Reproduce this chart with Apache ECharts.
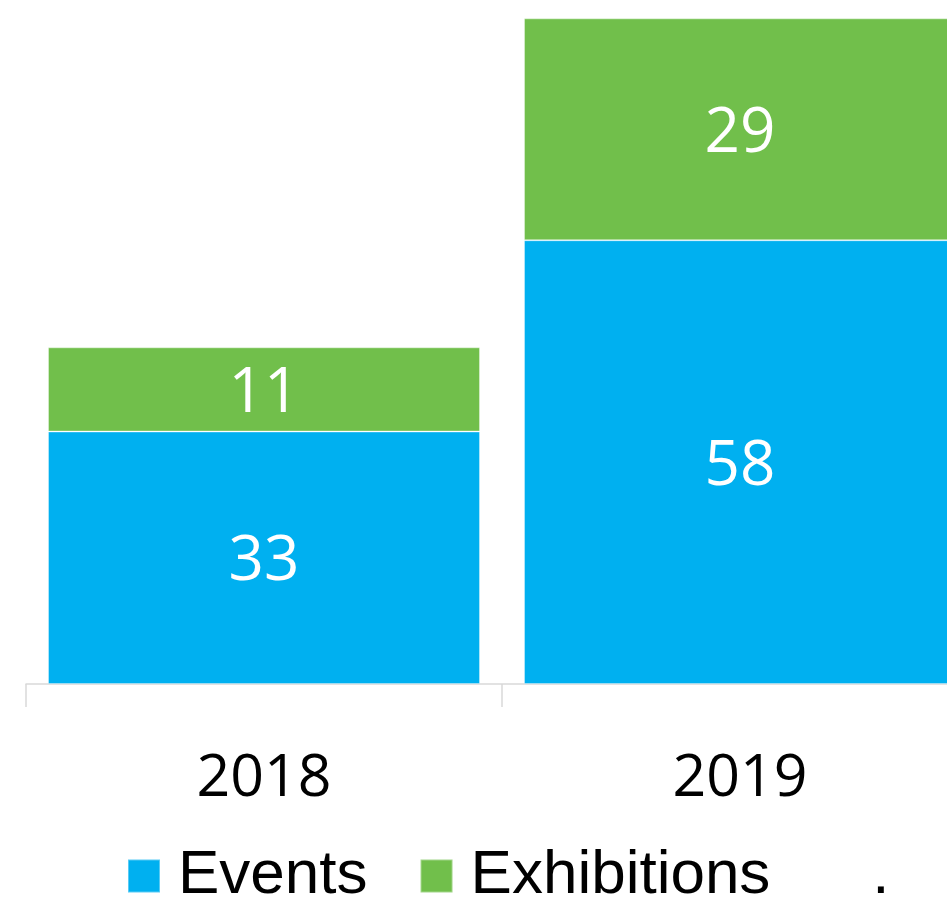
<!DOCTYPE html>
<html>
<head>
<meta charset="utf-8">
<script src="https://cdn.jsdelivr.net/npm/echarts@6/dist/echarts.min.js"></script>
<style>
  html, body {
    margin: 0;
    padding: 0;
    background: #fff;
  }
  #chart {
    width: 947px;
    height: 908px;
  }
</style>
</head>
<body>
<div id="chart"></div>
<script>
var years = ['2018', '2019']
var events = [33, 58]
var exhibitions = [11, 29]
var legendNames = ['Events', 'Exhibitions', '.']

var option = {
  animation: false,
  grid: {
    left: 26,
    top: 0,
    width: 952,
    height: 684,
    // the 2019 bar runs past the right edge of the picture
    outerBoundsMode: 'none',
    containLabel: false
  },
  legend: {
    left: 127,
    top: 845,
    padding: 0,
    itemWidth: 32,
    itemHeight: 33,
    itemGap: 52,
    icon: 'rect',
    textStyle: {
      fontFamily: 'Liberation Sans, Arial',
      fontSize: 62,
      color: '#000',
      padding: [0, 0, 0, 13]
    },
    data: [
      { name: legendNames[0] },
      { name: legendNames[1] },
      // dot entry has no visible marker
      { name: legendNames[2], itemStyle: { color: 'rgba(0,0,0,0)', opacity: 0 } }
    ]
  },
  xAxis: {
    type: 'category',
    data: years,
    axisLine: {
      show: true,
      lineStyle: { color: '#d9d9d9', width: 1.5 }
    },
    axisTick: {
      show: true,
      length: 23,
      lineStyle: { color: '#d9d9d9', width: 1.5 }
    },
    axisLabel: {
      margin: 66,
      fontFamily: 'Open Sans',
      fontSize: 59,
      color: '#000'
    }
  },
  yAxis: {
    type: 'value',
    min: 0,
    max: 89.4,
    show: false,
    splitLine: { show: false }
  },
  series: [
    {
      name: legendNames[0],
      type: 'bar',
      stack: 'total',
      barWidth: 432,
      data: events,
      itemStyle: {
        color: '#00B0F0',
        borderColor: 'rgba(255,255,255,0.35)',
        borderWidth: 1
      },
      label: {
        show: true,
        position: 'inside',
        offset: [0, 5],
        color: '#fff',
        fontFamily: 'Open Sans',
        fontSize: 62
      }
    },
    {
      name: legendNames[1],
      type: 'bar',
      stack: 'total',
      barWidth: 432,
      data: exhibitions,
      itemStyle: {
        color: '#71BF4B',
        borderColor: 'rgba(255,255,255,0.35)',
        borderWidth: 1
      },
      label: {
        show: true,
        position: 'inside',
        offset: [0, 5],
        color: '#fff',
        fontFamily: 'Open Sans',
        fontSize: 62
      }
    },
    {
      name: legendNames[2],
      type: 'bar',
      stack: 'total',
      data: [],
      itemStyle: { color: 'rgba(0,0,0,0)' }
    }
  ]
}

var chart = echarts.init(document.getElementById('chart'))
chart.setOption(option, true)
window.addEventListener('resize', () => {
  chart.resize()
})
</script>
</body>
</html>
